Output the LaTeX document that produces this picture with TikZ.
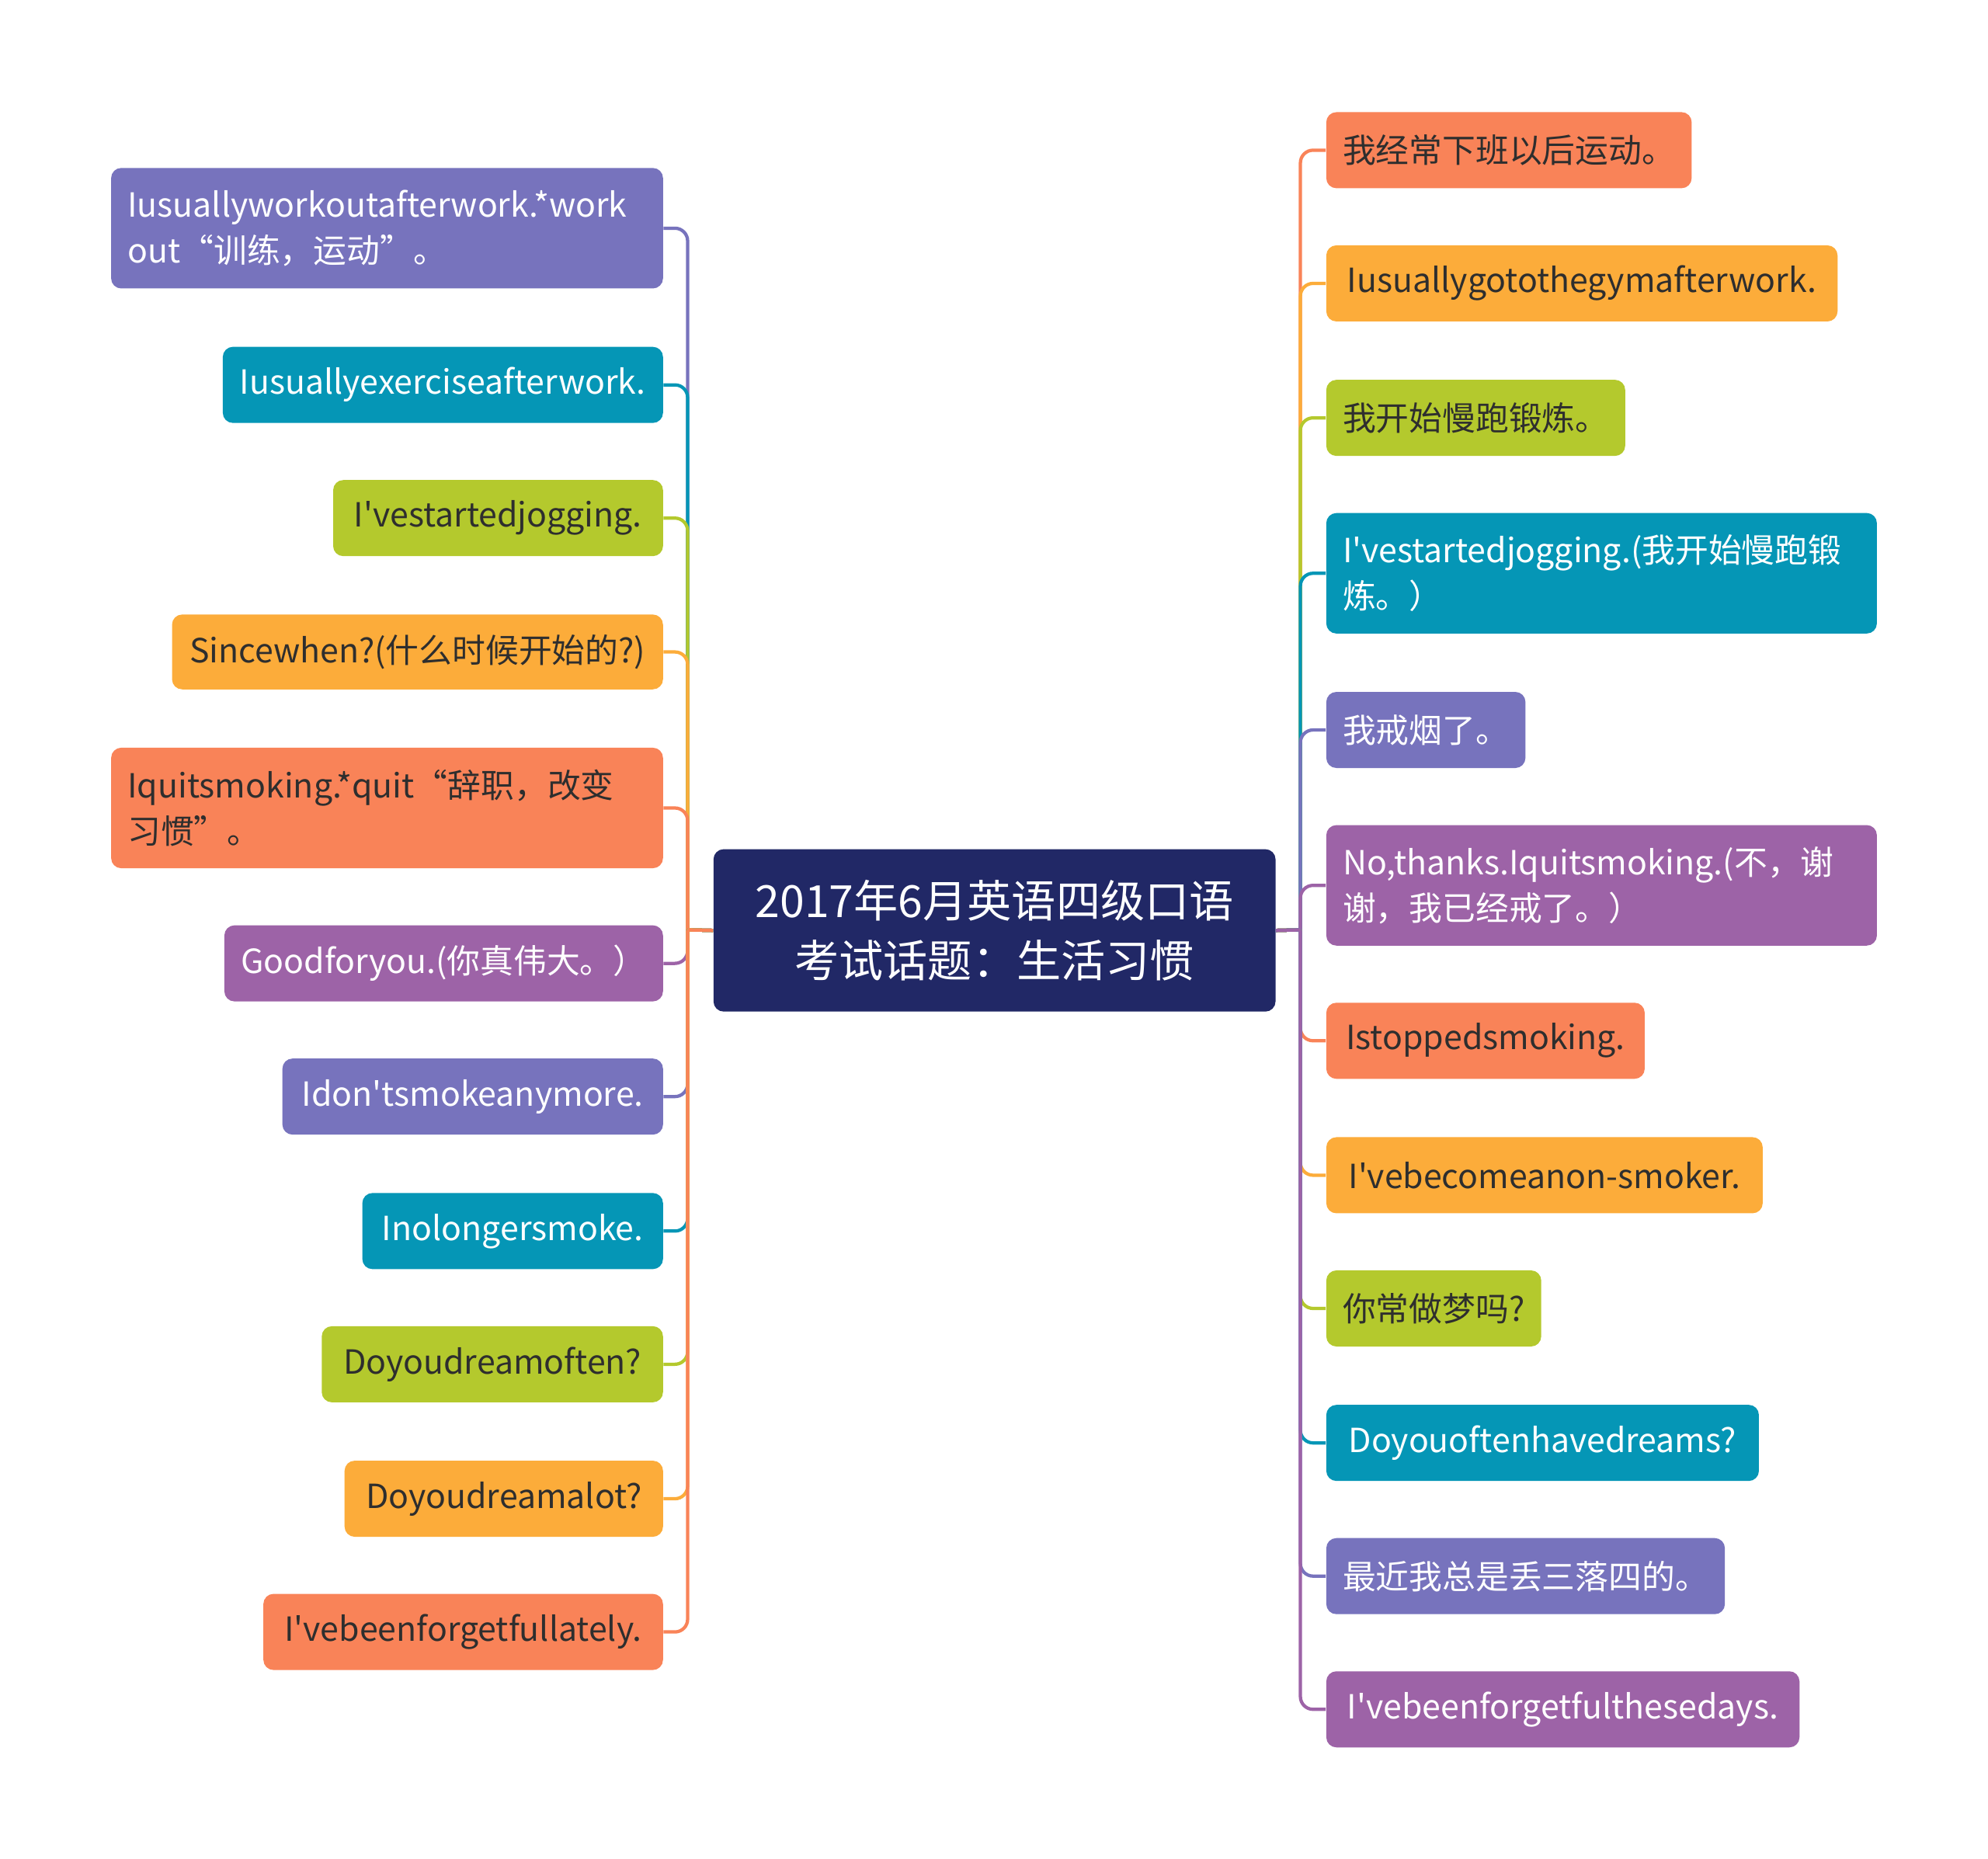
\documentclass[tikz,border=0pt]{standalone}
\usepackage{fontspec}
\setmainfont{Noto Sans CJK SC}[Ligatures=TeXOff]
\usetikzlibrary{backgrounds}
\definecolor{cSlate}{HTML}{7773BD}
\definecolor{cTeal}{HTML}{0596B6}
\definecolor{cGreen}{HTML}{B4C92D}
\definecolor{cOrange}{HTML}{FCAC3A}
\definecolor{cCoral}{HTML}{F98358}
\definecolor{cPurple}{HTML}{9D63A7}
\definecolor{cNavy}{HTML}{212866}
\definecolor{cDark}{HTML}{2E2E2E}
\tikzset{
  leaf/.style={rounded corners=4pt, inner xsep=6.5pt, inner ysep=0pt, align=left,
    font=\fontsize{13.1pt}{18pt}\selectfont},
  lleaf/.style={leaf, anchor=north east},
  rleaf/.style={leaf, anchor=north west},
  wt/.style={text=white},
  dk/.style={text=cDark},
  conn/.style={line width=1.3pt},
  connbend/.style={conn, rounded corners=5pt},
}
\begin{document}
\begin{tikzpicture}[x=0.5pt,y=-0.5pt]
\useasboundingbox (0,0) rectangle (1567,1464.8);
% centre
\node[rounded corners=4pt, fill=cNavy, text=white, anchor=north west, align=center,
  minimum width=221.5pt, minimum height=64pt, inner sep=0pt,
  font=\fontsize{17.5pt}{23.5pt}\selectfont] (C) at (562,669)
  {2017年6月英语四级口语\\考试话题：生活习惯};
\coordinate (LT) at (542,733);
\coordinate (RT) at (1025,733);
% left
\node[lleaf, fill=cSlate, wt, text width=204.5pt, minimum height=47.5pt] (L1) at (523,132) {Iusuallyworkoutafterwork.*work\\out“训练，运动”。};
\node[lleaf, fill=cTeal, wt, minimum width=173.5pt, minimum height=30pt] (L2) at (523,273) {Iusuallyexerciseafterwork.};
\node[lleaf, fill=cGreen, dk, minimum width=130pt, minimum height=30pt] (L3) at (523,378) {I'vestartedjogging.};
\node[lleaf, fill=cOrange, dk, minimum width=193.5pt, minimum height=29.5pt] (L4) at (523,484) {Sincewhen?(什么时候开始的?)};
\node[lleaf, fill=cCoral, dk, text width=204.5pt, minimum height=47.5pt] (L5) at (523,589) {Iquitsmoking.*quit“辞职，改变\\习惯”。};
\node[lleaf, fill=cPurple, wt, minimum width=166.5pt, minimum height=30pt] (L6) at (523,729) {Goodforyou.(你真伟大。）};
\node[lleaf, fill=cSlate, wt, minimum width=150pt, minimum height=30pt] (L7) at (523,834) {Idon'tsmokeanymore.};
\node[lleaf, fill=cTeal, wt, minimum width=118.5pt, minimum height=30pt] (L8) at (523,940) {Inolongersmoke.};
\node[lleaf, fill=cGreen, dk, minimum width=134.5pt, minimum height=30pt] (L9) at (523,1045) {Doyoudreamoften?};
\node[lleaf, fill=cOrange, dk, minimum width=125.5pt, minimum height=30pt] (L10) at (523,1151) {Doyoudreamalot?};
\node[lleaf, fill=cCoral, dk, minimum width=157.5pt, minimum height=30pt] (L11) at (523,1256) {I'vebeenforgetfullately.};
% right
\node[rleaf, fill=cCoral, dk, minimum width=144pt, minimum height=30pt] (R1) at (1045,88) {我经常下班以后运动。};
\node[rleaf, fill=cOrange, dk, minimum width=201.5pt, minimum height=30pt] (R2) at (1045,193) {Iusuallygotothegymafterwork.};
\node[rleaf, fill=cGreen, dk, minimum width=117.5pt, minimum height=30pt] (R3) at (1045,299) {我开始慢跑锻炼。};
\node[rleaf, fill=cTeal, wt, text width=204pt, minimum height=47.5pt] (R4) at (1045,404) {I'vestartedjogging.(我开始慢跑锻\\炼。）};
\node[rleaf, fill=cSlate, wt, minimum width=78pt, minimum height=30pt] (R5) at (1045,545) {我戒烟了。};
\node[rleaf, fill=cPurple, wt, text width=204pt, minimum height=47.5pt] (R6) at (1045,650) {No,thanks.Iquitsmoking.(不，谢\\谢，我已经戒了。）};
\node[rleaf, fill=cCoral, dk, minimum width=125.5pt, minimum height=30pt] (R7) at (1045,790) {Istoppedsmoking.};
\node[rleaf, fill=cOrange, dk, minimum width=172pt, minimum height=30pt] (R8) at (1045,896) {I'vebecomeanon-smoker.};
\node[rleaf, fill=cGreen, dk, minimum width=84.5pt, minimum height=30pt] (R9) at (1045,1001) {你常做梦吗?};
\node[rleaf, fill=cTeal, wt, minimum width=170.5pt, minimum height=30pt] (R10) at (1045,1107) {Doyouoftenhavedreams?};
\node[rleaf, fill=cSlate, wt, minimum width=157pt, minimum height=30pt] (R11) at (1045,1212) {最近我总是丢三落四的。};
\node[rleaf, fill=cPurple, wt, minimum width=186.5pt, minimum height=30pt] (R12) at (1045,1317) {I'vebeenforgetfulthesedays.};
% connectors
\begin{pgfonlayer}{background}
\foreach \n/\c in {L1/cSlate,L2/cTeal,L3/cGreen,L4/cOrange,L5/cCoral,L6/cPurple,L7/cSlate,L8/cTeal,L9/cGreen,L10/cOrange,L11/cCoral}{
  \draw[conn, \c] (C.west) -- (LT);
  \draw[connbend, \c] (LT) |- (\n.east);
}
\foreach \n/\c in {R1/cCoral,R2/cOrange,R3/cGreen,R4/cTeal,R5/cSlate,R6/cPurple,R7/cCoral,R8/cOrange,R9/cGreen,R10/cTeal,R11/cSlate,R12/cPurple}{
  \draw[conn, \c] (C.east) -- (RT);
  \draw[connbend, \c] (RT) |- (\n.west);
}
\end{pgfonlayer}
\end{tikzpicture}
\end{document}
